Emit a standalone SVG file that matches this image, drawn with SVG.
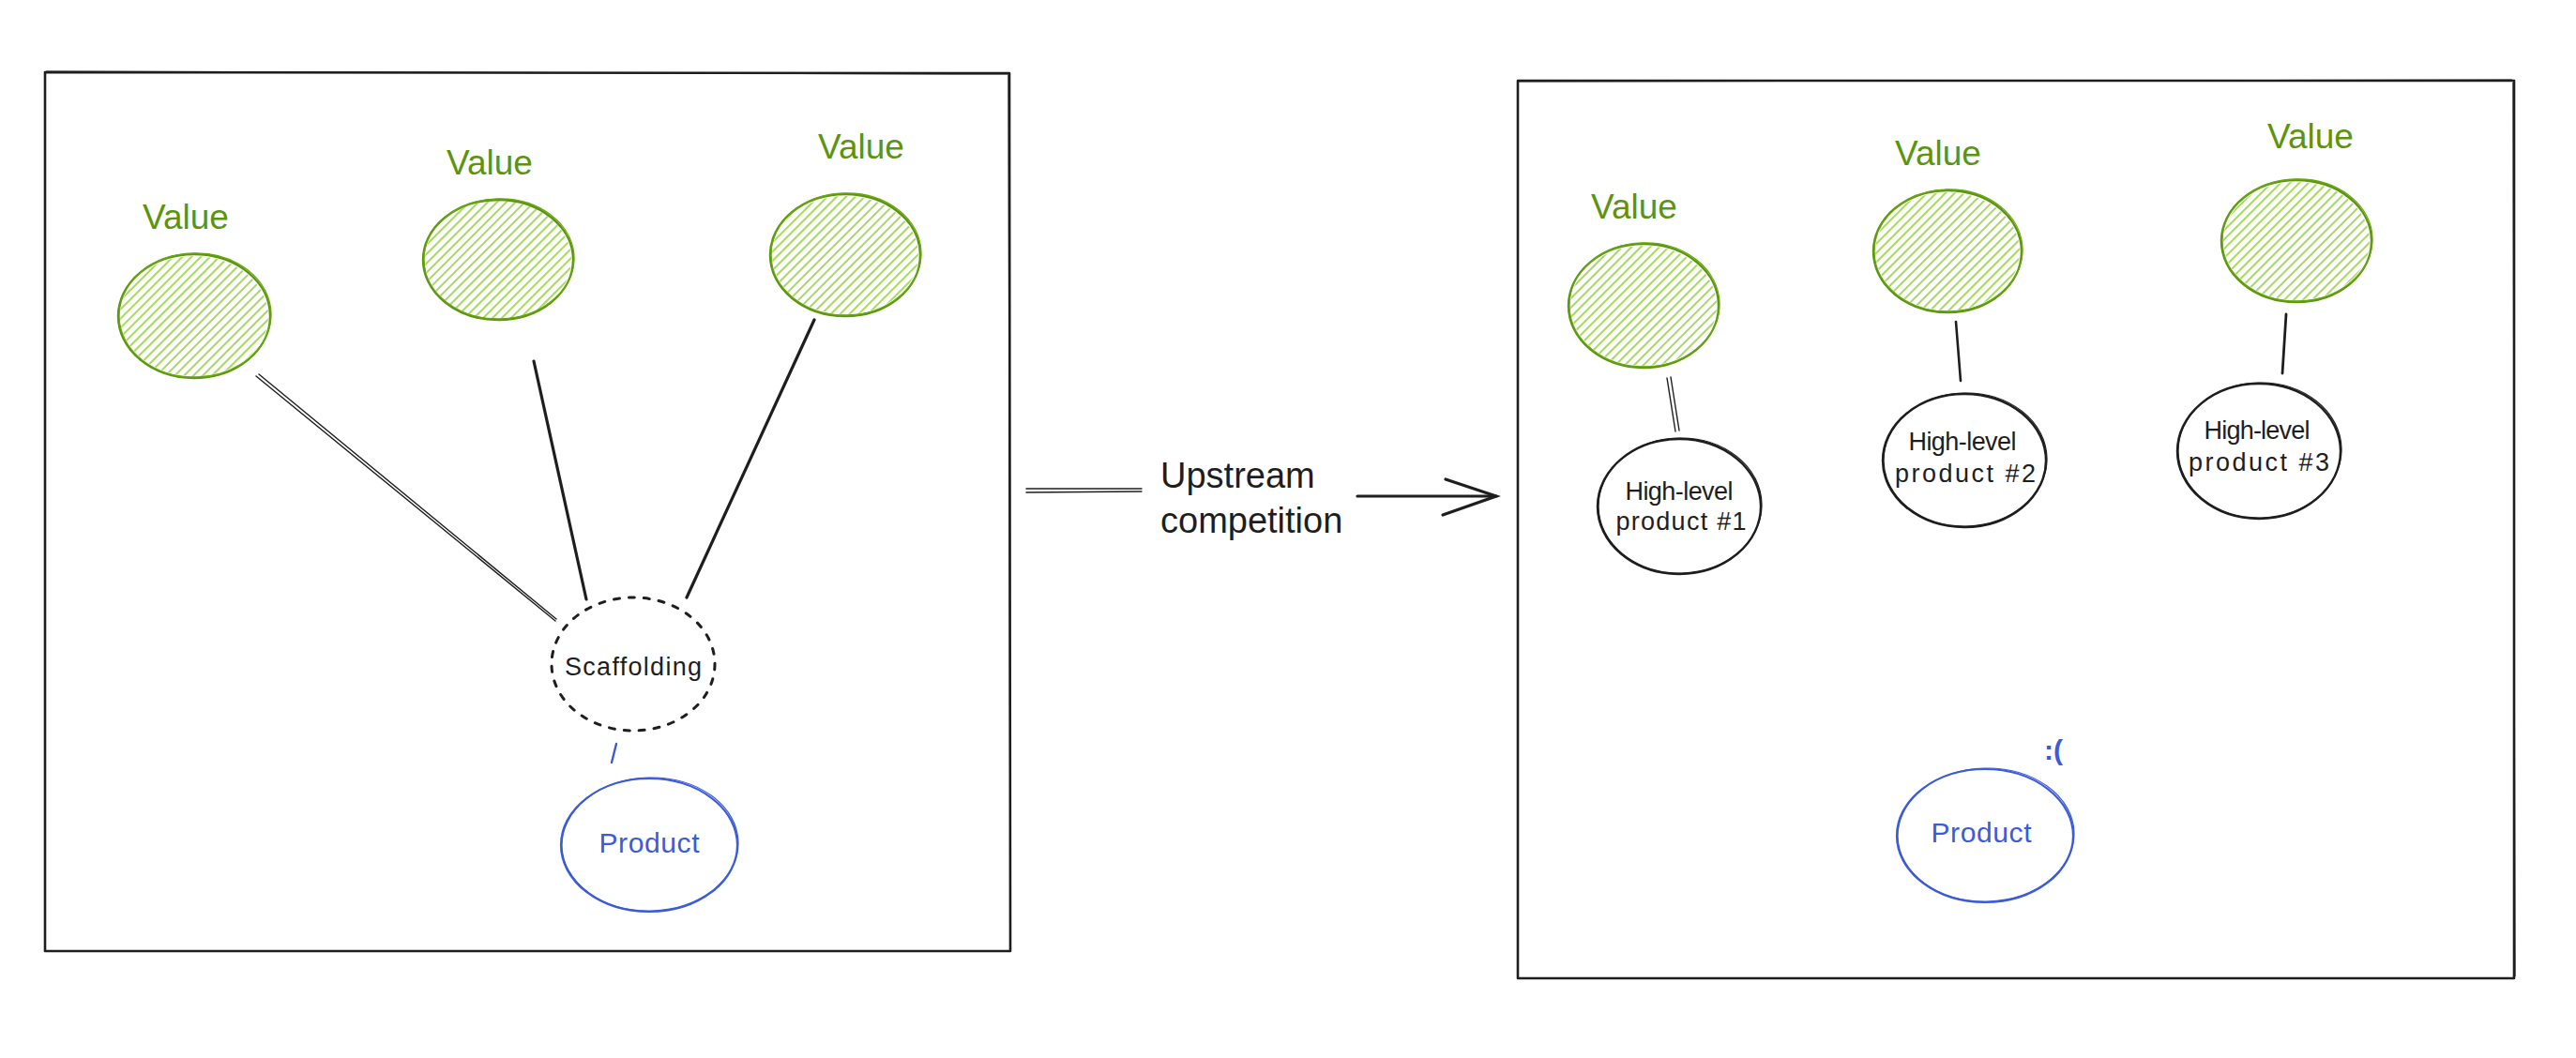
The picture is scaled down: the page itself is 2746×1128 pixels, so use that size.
<svg xmlns="http://www.w3.org/2000/svg" width="2746" height="1128" viewBox="0 0 2746 1128">
<style>
  .frame{fill:none;stroke:#1e1e1e;stroke-width:2.6;stroke-linejoin:round}
  .frame2{fill:none;stroke:#1e1e1e;stroke-width:1.2}
  .gOut{fill:none;stroke:#5c940d;stroke-width:2.4}
  .gOut2{fill:none;stroke:#66a80f;stroke-width:1.3}
  .bOut{fill:none;stroke:#1e1e1e;stroke-width:2.4}
  .bOut2{fill:none;stroke:#1e1e1e;stroke-width:1.2}
  .blOut{fill:none;stroke:#3b5bdb;stroke-width:2.2}
  .blOut2{fill:none;stroke:#3b5bdb;stroke-width:1.2}
  .dash{fill:none;stroke:#1e1e1e;stroke-width:3;stroke-dasharray:6 10;stroke-linecap:round}
  .val{font-family:"Liberation Sans",Arial,sans-serif;font-size:37px;fill:#5c940d;text-anchor:middle}
  .lbl{font-family:"Liberation Sans",Arial,sans-serif;font-size:27px;fill:#1e1e1e;text-anchor:middle}
  .blue{font-family:"Liberation Sans",Arial,sans-serif;font-size:30px;fill:#3b5bdb;text-anchor:middle}
  .big{font-family:"Liberation Sans",Arial,sans-serif;font-size:38px;fill:#1e1e1e}
  .thick{stroke:#1e1e1e;stroke-width:3.2;stroke-linecap:round;fill:none}
  .thin{stroke:#1e1e1e;stroke-width:1.4;stroke-linecap:round;fill:none}
</style>
<defs>
  <pattern id="hatch" patternUnits="userSpaceOnUse" width="7" height="7" patternTransform="rotate(45)">
    <line x1="2" y1="0" x2="2" y2="7" stroke="#82c91e" stroke-width="1.4"/>
  </pattern>
</defs>
<rect width="2746" height="1128" fill="#ffffff"/>

<g id="frame-left">
  <path class="frame" d="M48 77 L1076 78 L1077 1014 L48 1014 Z"/>
  <path class="frame2" d="M49 76 L1075 79 M1075 80 L1077 1012"/>
</g>
<g id="frame-right">
  <path class="frame" d="M1618 86 L2680 86 L2680 1043 L1618 1043 Z"/>
  <path class="frame2" d="M1619 87 L2678 85 M2679 88 L2681 1041"/>
</g>

<g id="connectors">
  <path class="thin" d="M273 401 L592 662"/>
  <path class="thin" d="M276 399 L593 660"/>
  <path class="thick" d="M569 385 L625 639"/>
  <path class="thick" d="M868 341 L732 637"/>
  <path d="M657 793 L652 813" stroke="#3b5bdb" stroke-width="2.4" stroke-linecap="round"/>
  <path class="thin" d="M1777 403 L1786 460"/>
  <path class="thin" d="M1781 402 L1790 459"/>
  <path class="thick" d="M2085 343 L2090 406" style="stroke-width:2.6"/>
  <path class="thick" d="M2437 335 L2433 398" style="stroke-width:2.8"/>
  <path class="thin" d="M1094 521 L1217 521"/>
  <path class="thin" d="M1094 525 L1217 524"/>
  <path class="thick" d="M1447 529 L1595 529"/>
  <path class="thick" d="M1541 511 L1595 529 L1538 549"/>
</g>

<g id="value-1">
  <ellipse cx="207" cy="337" rx="79" ry="64" fill="url(#hatch)"/>
  <ellipse class="gOut" cx="207" cy="337" rx="81" ry="66"/>
  <ellipse class="gOut2" cx="208" cy="336" rx="81" ry="66" transform="rotate(-1.5 208 336)"/>
  <text class="val" x="198" y="244">Value</text>
</g>
<g id="value-2">
  <ellipse cx="531" cy="277" rx="78" ry="63" fill="url(#hatch)"/>
  <ellipse class="gOut" cx="531" cy="277" rx="80" ry="64"/>
  <ellipse class="gOut2" cx="532" cy="276" rx="80" ry="64" transform="rotate(-1.5 532 276)"/>
  <text class="val" x="522" y="186">Value</text>
</g>
<g id="value-3">
  <ellipse cx="901" cy="272" rx="78" ry="63" fill="url(#hatch)"/>
  <ellipse class="gOut" cx="901" cy="272" rx="80" ry="65"/>
  <ellipse class="gOut2" cx="902" cy="271" rx="80" ry="65" transform="rotate(-1.5 902 271)"/>
  <text class="val" x="918" y="169">Value</text>
</g>

<g id="scaffolding">
  <ellipse class="dash" cx="675" cy="708" rx="87" ry="71"/>
  <text class="lbl" x="675" y="720" font-size="29" textLength="146">Scaffolding</text>
</g>

<g id="product-left">
  <ellipse class="blOut" cx="692" cy="901" rx="94" ry="71"/>
  <ellipse class="blOut2" cx="693" cy="900" rx="94" ry="71" transform="rotate(-1.5 693 900)"/>
  <text class="blue" x="692" y="909" textLength="107">Product</text>
</g>

<g id="value-r1">
  <ellipse cx="1752" cy="326" rx="78" ry="64" fill="url(#hatch)"/>
  <ellipse class="gOut" cx="1752" cy="326" rx="80" ry="66"/>
  <ellipse class="gOut2" cx="1753" cy="325" rx="80" ry="66" transform="rotate(-1.5 1753 325)"/>
  <text class="val" x="1742" y="233">Value</text>
</g>
<g id="value-r2">
  <ellipse cx="2076" cy="268" rx="77" ry="63" fill="url(#hatch)"/>
  <ellipse class="gOut" cx="2076" cy="268" rx="79" ry="65"/>
  <ellipse class="gOut2" cx="2077" cy="267" rx="79" ry="65" transform="rotate(-1.5 2077 267)"/>
  <text class="val" x="2066" y="176">Value</text>
</g>
<g id="value-r3">
  <ellipse cx="2448" cy="257" rx="78" ry="63" fill="url(#hatch)"/>
  <ellipse class="gOut" cx="2448" cy="257" rx="80" ry="65"/>
  <ellipse class="gOut2" cx="2449" cy="256" rx="80" ry="65" transform="rotate(-1.5 2449 256)"/>
  <text class="val" x="2463" y="158">Value</text>
</g>

<g id="high-level-1">
  <ellipse class="bOut" cx="1790" cy="540" rx="87" ry="72"/>
  <ellipse class="bOut2" cx="1791" cy="539" rx="87" ry="72" transform="rotate(-1.5 1791 539)"/>
  <text class="lbl" x="1790" y="533" textLength="115">High-level</text>
  <text class="lbl" x="1792" y="565" textLength="139">product #1</text>
</g>
<g id="high-level-2">
  <ellipse class="bOut" cx="2094" cy="491" rx="87" ry="71"/>
  <ellipse class="bOut2" cx="2095" cy="490" rx="87" ry="71" transform="rotate(-1.5 2095 490)"/>
  <text class="lbl" x="2092" y="480" textLength="115">High-level</text>
  <text class="lbl" x="2095" y="514" textLength="150">product #2</text>
</g>
<g id="high-level-3">
  <ellipse class="bOut" cx="2408" cy="481" rx="87" ry="72"/>
  <ellipse class="bOut2" cx="2409" cy="480" rx="87" ry="72" transform="rotate(-1.5 2409 480)"/>
  <text class="lbl" x="2406" y="468" textLength="113">High-level</text>
  <text class="lbl" x="2408" y="502" textLength="150">product #3</text>
</g>

<g id="product-right">
  <ellipse class="blOut" cx="2116" cy="891" rx="94" ry="71"/>
  <ellipse class="blOut2" cx="2117" cy="890" rx="94" ry="71" transform="rotate(-1.5 2117 890)"/>
  <text class="blue" x="2112" y="898" textLength="107">Product</text>
  <text class="blue" x="2189" y="810" font-size="32" font-weight="bold">:(</text>
</g>

<g id="edge-label">
  <text class="big" x="1237" y="520">Upstream</text>
  <text class="big" x="1237" y="568">competition</text>
</g>
</svg>
